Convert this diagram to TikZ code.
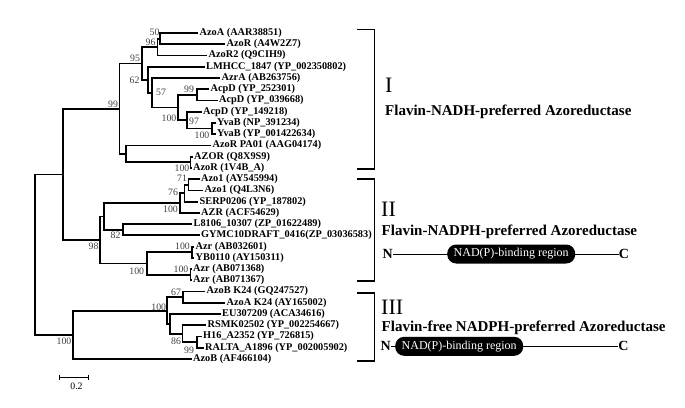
\documentclass[tikz,border=0pt]{standalone}
\usepackage{fontspec}
\setmainfont{Liberation Serif}
\usetikzlibrary{positioning}
\tikzstyle{branch} = [line width=1.8pt, line join=miter]
\tikzstyle{leaf} = [anchor=west, inner sep=1.5pt, font=\fontsize{10.3}{11}\selectfont\bfseries]
\tikzstyle{boot} = [inner sep=0pt, text=black!75, font=\fontsize{9.8}{10}\selectfont]
\tikzstyle{bracket} = [line width=1.3pt]
\tikzstyle{roman} = [anchor=west, inner sep=0pt, font=\fontsize{22}{24}\selectfont]
\tikzstyle{grouplbl} = [anchor=base west, inner sep=0pt, font=\fontsize{15}{16}\selectfont\bfseries]
\tikzstyle{pill} = [fill=black, text=white, rounded corners=9pt, minimum width=128pt, minimum height=19pt, inner sep=0pt, font=\fontsize{12}{13}\selectfont]
\tikzstyle{term} = [inner sep=0pt, font=\fontsize{14}{15}\selectfont\bfseries]
\tikzstyle{domline} = [line width=0.9pt]

\begin{document}
\begin{tikzpicture}[x=1pt, y=-1pt]
    \useasboundingbox (0,0) rectangle (685,407);

    % leaves
    \node[leaf] (l0) at (198,33.0) {AzoA (AAR38851)};
    \node[leaf] (l1) at (225,44.2) {AzoR (A4W2Z7)};
    \node[leaf] (l2) at (207,55.5) {AzoR2 (Q9CIH9)};
    \node[leaf] (l3) at (204.5,66.7) {LMHCC\_1847 (YP\_002350802)};
    \node[leaf] (l4) at (220,78.0) {AzrA (AB263756)};
    \node[leaf] (l5) at (209,89.2) {AcpD (YP\_252301)};
    \node[leaf] (l6) at (217.5,100.4) {AcpD (YP\_039668)};
    \node[leaf] (l7) at (201.5,111.7) {AcpD (YP\_149218)};
    \node[leaf] (l8) at (215.5,122.9) {YvaB (NP\_391234)};
    \node[leaf] (l9) at (215.5,134.2) {YvaB (YP\_001422634)};
    \node[leaf] (l10) at (211,145.4) {AzoR PA01 (AAG04174)};
    \node[leaf] (l11) at (192.5,156.6) {AZOR (Q8X9S9)};
    \node[leaf] (l12) at (191.5,167.9) {AzoR (1V4B\_A)};
    \node[leaf] (l13) at (199.5,179.1) {Azo1 (AY545994)};
    \node[leaf] (l14) at (203,190.4) {Azo1 (Q4L3N6)};
    \node[leaf] (l15) at (198,201.6) {SERP0206 (YP\_187802)};
    \node[leaf] (l16) at (199.5,212.8) {AZR (ACF54629)};
    \node[leaf] (l17) at (192,224.1) {L8106\_10307 (ZP\_01622489)};
    \node[leaf] (l18) at (199.5,235.3) {GYMC10DRAFT\_0416(ZP\_03036583)};
    \node[leaf] (l19) at (194,246.6) {Azr (AB032601)};
    \node[leaf] (l20) at (194,257.8) {YB0110 (AY150311)};
    \node[leaf] (l21) at (191.5,269.0) {Azr (AB071368)};
    \node[leaf] (l22) at (191.5,280.3) {Azr (AB071367)};
    \node[leaf] (l23) at (205,291.5) {AzoB K24 (GQ247527)};
    \node[leaf] (l24) at (225,302.8) {AzoA K24 (AY165002)};
    \node[leaf] (l25) at (220.5,314.0) {EU307209 (ACA34616)};
    \node[leaf] (l26) at (206,325.2) {RSMK02502 (YP\_002254667)};
    \node[leaf] (l27) at (201.5,336.5) {H16\_A2352 (YP\_726815)};
    \node[leaf] (l28) at (203.5,347.7) {RALTA\_A1896 (YP\_002005902)};
    \node[leaf] (l29) at (191.5,359.0) {AzoB (AF466104)};

    % internal nodes
    \coordinate (n50) at (160,38.6);
    \coordinate (n96) at (157.5,47.1);
    \coordinate (n99a) at (196.7,94.8);
    \coordinate (n100y) at (212.3,128.5);
    \coordinate (n97) at (186.7,120.1);
    \coordinate (n100a) at (178.3,107.5);
    \coordinate (n57) at (151.7,92.7);
    \coordinate (n62) at (148.3,79.7);
    \coordinate (n95) at (141.7,63.4);
    \coordinate (n100b) at (190.5,162.3);
    \coordinate (nAZ) at (126,153.9);
    \coordinate (n99) at (119.5,108.7);
    \coordinate (n71) at (188.5,184.8);
    \coordinate (n76) at (184.5,193.2);
    \coordinate (n100c) at (180,203.0);
    \coordinate (n82) at (123.3,229.7);
    \coordinate (nA) at (104,216.4);
    \coordinate (n100d) at (192,252.2);
    \coordinate (n100e) at (190.5,274.7);
    \coordinate (nB) at (146.7,263.5);
    \coordinate (n98) at (100,240.0);
    \coordinate (nI2) at (63.3,174.4);
    \coordinate (n67) at (183.3,297.2);
    \coordinate (n99b) at (196.7,342.1);
    \coordinate (n86) at (182.5,333.7);
    \coordinate (nC) at (170,323.9);
    \coordinate (n100f) at (166.7,310.6);
    \coordinate (nG3) at (72.7,334.8);
    \coordinate (root) at (35,254.6);

    % group I branches
    \draw[branch] (l0.west) -| (n50) |- (l1.west);
    \draw[branch] (n50) -| (n96) |- (l2.west);
    \draw[branch] (l5.west) -| (n99a) |- (l6.west);
    \draw[branch] (l8.west) -| (n100y) |- (l9.west);
    \draw[branch] (l7.west) -| (n97) |- (n100y);
    \draw[branch] (n99a) -| (n100a) |- (n97);
    \draw[branch] (l4.west) -| (n57) |- (n100a);
    \draw[branch] (l3.west) -| (n62) |- (n57);
    \draw[branch] (n96) -| (n95) |- (n62);
    \draw[branch] (l11.west) -| (n100b) |- (l12.west);
    \draw[branch] (l10.west) -| (nAZ) |- (n100b);
    \draw[branch] (n95) -| (n99) |- (nAZ);
    % group II branches
    \draw[branch] (l13.west) -| (n71) |- (l14.west);
    \draw[branch] (n71) -| (n76) |- (l15.west);
    \draw[branch] (n76) -| (n100c) |- (l16.west);
    \draw[branch] (l17.west) -| (n82) |- (l18.west);
    \draw[branch] (n100c) -| (nA) |- (n82);
    \draw[branch] (l19.west) -| (n100d) |- (l20.west);
    \draw[branch] (l21.west) -| (n100e) |- (l22.west);
    \draw[branch] (n100d) -| (nB) |- (n100e);
    \draw[branch] (nA) -| (n98) |- (nB);
    \draw[branch] (n99) -| (nI2) |- (n98);
    % group III branches
    \draw[branch] (l23.west) -| (n67) |- (l24.west);
    \draw[branch] (l27.west) -| (n99b) |- (l28.west);
    \draw[branch] (l26.west) -| (n86) |- (n99b);
    \draw[branch] (l25.west) -| (nC) |- (n86);
    \draw[branch] (n67) -| (n100f) |- (nC);
    \draw[branch] (n100f) -| (nG3) |- (l29.west);
    \draw[branch] (nI2) -| (root) |- (nG3);

    % bootstrap values
    \node[boot] (b50) at (154.5,32.5) {50};
    \node[boot] (b96) at (150.5,42) {96};
    \node[boot] (b95) at (135,58) {95};
    \node[boot] (b62) at (134.5,80) {62};
    \node[boot] (b57) at (161,92) {57};
    \node[boot] (b99a) at (189,89) {99};
    \node[boot] (b100a) at (169,118) {100};
    \node[boot] (b97) at (194,121) {97};
    \node[boot] (b100y) at (202,135) {100};
    \node[boot] (b100b) at (182,168) {100};
    \node[boot] (b99) at (113,104) {99};
    \node[boot] (b71) at (182,178) {71};
    \node[boot] (b76) at (173,192.5) {76};
    \node[boot] (b100c) at (170.5,209) {100};
    \node[boot] (b82) at (115.5,235.5) {82};
    \node[boot] (b98) at (93.5,246.5) {98};
    \node[boot] (b100d) at (182.5,246.5) {100};
    \node[boot] (b100e) at (181,269.5) {100};
    \node[boot] (b100nb) at (136.7,271.5) {100};
    \node[boot] (b67) at (176,292) {67};
    \node[boot] (b100f) at (158.7,307) {100};
    \node[boot] (b86) at (176,341.5) {86};
    \node[boot] (b99b) at (189,350.5) {99};
    \node[boot] (b100g) at (64,341.5) {100};

    % scale bar
    \draw[line width=0.8pt] (59,374.5) -- (59,379.5) (59,377) -- (88,377) (88,374.5) -- (88,379.5);
    \node[boot, text=black] (scale) at (76.5,386) {0.2};

    % group brackets
    \draw[bracket] (357,29.5) -- (374.5,29.5) -- (374.5,169) -- (357,169);
    \draw[bracket] (357,179) -- (374.5,179) -- (374.5,281) -- (357,281);
    \draw[bracket] (357,293) -- (374.5,293) -- (374.5,361) -- (357,361);

    % group I
    \node[roman] (r1) at (385,85.5) {I};
    \node[grouplbl] (g1) at (385,115) {Flavin-NADH-preferred Azoreductase};
    % group II
    \node[roman] (r2) at (381,209.5) {II};
    \node[grouplbl] (g2) at (381.5,235) {Flavin-NADPH-preferred Azoreductase};
    \node[term] (n2) at (387.7,254) {N};
    \node[pill] (p2) at (511.2,254) {NAD(P)-binding region};
    \node[term] (c2) at (623.8,254) {C};
    \draw[domline] (n2) -- (p2) -- (c2);
    % group III
    \node[roman] (r3) at (381,307.5) {III};
    \node[grouplbl] (g3) at (381.5,331.7) {Flavin-free NADPH-preferred Azoreductase};
    \node[term] (n3) at (385.7,346.3) {N};
    \node[pill] (p3) at (459.2,346.3) {NAD(P)-binding region};
    \node[term] (c3) at (623.3,346.3) {C};
    \draw[domline] (n3) -- (p3) -- (c3);
\end{tikzpicture}
\end{document}
